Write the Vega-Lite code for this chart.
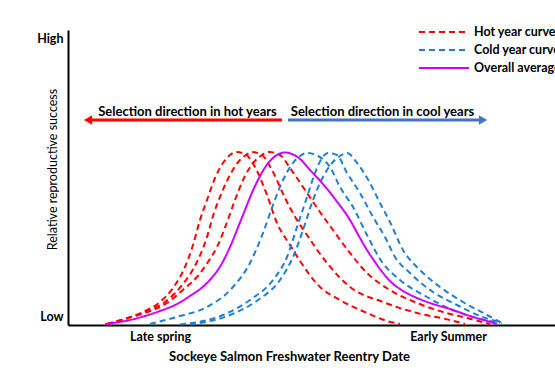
{
  "$schema": "https://vega.github.io/schema/vega-lite/v6.json",
  "width": 487,
  "height": 295,
  "autosize": "none",
  "padding": {"left": 68, "top": 30, "right": 0, "bottom": 49},
  "background": "white",
  "config": {
    "view": {"stroke": null},
    "font": "Lato",
    "axis": {"grid": false, "ticks": false, "domainColor": "#000000", "domainWidth": 2, "labelColor": "#000000", "titleColor": "#000000"}
  },
  "layer": [
    {
      "data": {
        "values": [
          {"type": "Hot year curve", "curve": "R1", "x": 7.8, "y": 0.004},
          {"type": "Hot year curve", "curve": "R1", "x": 12, "y": 0.028},
          {"type": "Hot year curve", "curve": "R1", "x": 15.4, "y": 0.056},
          {"type": "Hot year curve", "curve": "R1", "x": 18.4, "y": 0.092},
          {"type": "Hot year curve", "curve": "R1", "x": 21, "y": 0.148},
          {"type": "Hot year curve", "curve": "R1", "x": 23.4, "y": 0.232},
          {"type": "Hot year curve", "curve": "R1", "x": 25, "y": 0.32},
          {"type": "Hot year curve", "curve": "R1", "x": 26.4, "y": 0.42},
          {"type": "Hot year curve", "curve": "R1", "x": 27.8, "y": 0.5},
          {"type": "Hot year curve", "curve": "R1", "x": 29.4, "y": 0.588},
          {"type": "Hot year curve", "curve": "R1", "x": 31, "y": 0.648},
          {"type": "Hot year curve", "curve": "R1", "x": 32.4, "y": 0.68},
          {"type": "Hot year curve", "curve": "R1", "x": 33.6, "y": 0.692},
          {"type": "Hot year curve", "curve": "R1", "x": 35.4, "y": 0.684},
          {"type": "Hot year curve", "curve": "R1", "x": 37.4, "y": 0.632},
          {"type": "Hot year curve", "curve": "R1", "x": 39.8, "y": 0.52},
          {"type": "Hot year curve", "curve": "R1", "x": 41.8, "y": 0.408},
          {"type": "Hot year curve", "curve": "R1", "x": 44.4, "y": 0.32},
          {"type": "Hot year curve", "curve": "R1", "x": 46.4, "y": 0.256},
          {"type": "Hot year curve", "curve": "R1", "x": 50.4, "y": 0.152},
          {"type": "Hot year curve", "curve": "R1", "x": 54.4, "y": 0.1},
          {"type": "Hot year curve", "curve": "R1", "x": 59.8, "y": 0.048},
          {"type": "Hot year curve", "curve": "R1", "x": 63.8, "y": 0.016},
          {"type": "Hot year curve", "curve": "R1", "x": 66.4, "y": 0.004},

          {"type": "Hot year curve", "curve": "R2", "x": 7.8, "y": 0.004},
          {"type": "Hot year curve", "curve": "R2", "x": 12, "y": 0.028},
          {"type": "Hot year curve", "curve": "R2", "x": 15.4, "y": 0.052},
          {"type": "Hot year curve", "curve": "R2", "x": 19.4, "y": 0.092},
          {"type": "Hot year curve", "curve": "R2", "x": 23, "y": 0.164},
          {"type": "Hot year curve", "curve": "R2", "x": 25.6, "y": 0.244},
          {"type": "Hot year curve", "curve": "R2", "x": 27.6, "y": 0.34},
          {"type": "Hot year curve", "curve": "R2", "x": 29.2, "y": 0.448},
          {"type": "Hot year curve", "curve": "R2", "x": 30.8, "y": 0.532},
          {"type": "Hot year curve", "curve": "R2", "x": 32.4, "y": 0.6},
          {"type": "Hot year curve", "curve": "R2", "x": 34.4, "y": 0.66},
          {"type": "Hot year curve", "curve": "R2", "x": 35.6, "y": 0.68},
          {"type": "Hot year curve", "curve": "R2", "x": 36.8, "y": 0.692},
          {"type": "Hot year curve", "curve": "R2", "x": 38.8, "y": 0.68},
          {"type": "Hot year curve", "curve": "R2", "x": 40.8, "y": 0.62},
          {"type": "Hot year curve", "curve": "R2", "x": 43.4, "y": 0.508},
          {"type": "Hot year curve", "curve": "R2", "x": 45.8, "y": 0.42},
          {"type": "Hot year curve", "curve": "R2", "x": 47.8, "y": 0.36},
          {"type": "Hot year curve", "curve": "R2", "x": 51.8, "y": 0.248},
          {"type": "Hot year curve", "curve": "R2", "x": 56.4, "y": 0.152},
          {"type": "Hot year curve", "curve": "R2", "x": 63, "y": 0.092},
          {"type": "Hot year curve", "curve": "R2", "x": 69.8, "y": 0.048},
          {"type": "Hot year curve", "curve": "R2", "x": 76.4, "y": 0.02},
          {"type": "Hot year curve", "curve": "R2", "x": 79.4, "y": 0.004},

          {"type": "Hot year curve", "curve": "R3", "x": 7.8, "y": 0.004},
          {"type": "Hot year curve", "curve": "R3", "x": 12, "y": 0.028},
          {"type": "Hot year curve", "curve": "R3", "x": 15.4, "y": 0.048},
          {"type": "Hot year curve", "curve": "R3", "x": 19.8, "y": 0.088},
          {"type": "Hot year curve", "curve": "R3", "x": 23.4, "y": 0.148},
          {"type": "Hot year curve", "curve": "R3", "x": 25.8, "y": 0.192},
          {"type": "Hot year curve", "curve": "R3", "x": 28, "y": 0.252},
          {"type": "Hot year curve", "curve": "R3", "x": 29.8, "y": 0.312},
          {"type": "Hot year curve", "curve": "R3", "x": 31.6, "y": 0.4},
          {"type": "Hot year curve", "curve": "R3", "x": 33.4, "y": 0.5},
          {"type": "Hot year curve", "curve": "R3", "x": 35.4, "y": 0.596},
          {"type": "Hot year curve", "curve": "R3", "x": 37.2, "y": 0.652},
          {"type": "Hot year curve", "curve": "R3", "x": 38.8, "y": 0.68},
          {"type": "Hot year curve", "curve": "R3", "x": 40.2, "y": 0.692},
          {"type": "Hot year curve", "curve": "R3", "x": 42.4, "y": 0.68},
          {"type": "Hot year curve", "curve": "R3", "x": 44.4, "y": 0.628},
          {"type": "Hot year curve", "curve": "R3", "x": 47.4, "y": 0.54},
          {"type": "Hot year curve", "curve": "R3", "x": 50.4, "y": 0.452},
          {"type": "Hot year curve", "curve": "R3", "x": 53, "y": 0.38},
          {"type": "Hot year curve", "curve": "R3", "x": 56.4, "y": 0.288},
          {"type": "Hot year curve", "curve": "R3", "x": 59.8, "y": 0.208},
          {"type": "Hot year curve", "curve": "R3", "x": 64.4, "y": 0.14},
          {"type": "Hot year curve", "curve": "R3", "x": 69.8, "y": 0.088},
          {"type": "Hot year curve", "curve": "R3", "x": 75, "y": 0.052},
          {"type": "Hot year curve", "curve": "R3", "x": 79.8, "y": 0.028},
          {"type": "Hot year curve", "curve": "R3", "x": 84.4, "y": 0.004},

          {"type": "Cold year curve", "curve": "B1", "x": 16.4, "y": 0.004},
          {"type": "Cold year curve", "curve": "B1", "x": 22.4, "y": 0.036},
          {"type": "Cold year curve", "curve": "B1", "x": 27.8, "y": 0.072},
          {"type": "Cold year curve", "curve": "B1", "x": 33, "y": 0.152},
          {"type": "Cold year curve", "curve": "B1", "x": 36.4, "y": 0.248},
          {"type": "Cold year curve", "curve": "B1", "x": 39, "y": 0.368},
          {"type": "Cold year curve", "curve": "B1", "x": 41, "y": 0.48},
          {"type": "Cold year curve", "curve": "B1", "x": 43, "y": 0.58},
          {"type": "Cold year curve", "curve": "B1", "x": 45, "y": 0.648},
          {"type": "Cold year curve", "curve": "B1", "x": 46.4, "y": 0.676},
          {"type": "Cold year curve", "curve": "B1", "x": 47.8, "y": 0.688},
          {"type": "Cold year curve", "curve": "B1", "x": 50, "y": 0.676},
          {"type": "Cold year curve", "curve": "B1", "x": 52.4, "y": 0.632},
          {"type": "Cold year curve", "curve": "B1", "x": 54.4, "y": 0.552},
          {"type": "Cold year curve", "curve": "B1", "x": 57, "y": 0.472},
          {"type": "Cold year curve", "curve": "B1", "x": 59.8, "y": 0.36},
          {"type": "Cold year curve", "curve": "B1", "x": 62.8, "y": 0.252},
          {"type": "Cold year curve", "curve": "B1", "x": 66.4, "y": 0.18},
          {"type": "Cold year curve", "curve": "B1", "x": 71.8, "y": 0.112},
          {"type": "Cold year curve", "curve": "B1", "x": 76.4, "y": 0.064},
          {"type": "Cold year curve", "curve": "B1", "x": 81, "y": 0.032},
          {"type": "Cold year curve", "curve": "B1", "x": 86.4, "y": 0.008},

          {"type": "Cold year curve", "curve": "B2", "x": 22.4, "y": 0.002},
          {"type": "Cold year curve", "curve": "B2", "x": 31, "y": 0.04},
          {"type": "Cold year curve", "curve": "B2", "x": 36.4, "y": 0.1},
          {"type": "Cold year curve", "curve": "B2", "x": 41, "y": 0.18},
          {"type": "Cold year curve", "curve": "B2", "x": 43.8, "y": 0.272},
          {"type": "Cold year curve", "curve": "B2", "x": 45.8, "y": 0.392},
          {"type": "Cold year curve", "curve": "B2", "x": 47.8, "y": 0.512},
          {"type": "Cold year curve", "curve": "B2", "x": 49.4, "y": 0.608},
          {"type": "Cold year curve", "curve": "B2", "x": 50.8, "y": 0.668},
          {"type": "Cold year curve", "curve": "B2", "x": 52, "y": 0.688},
          {"type": "Cold year curve", "curve": "B2", "x": 53.8, "y": 0.68},
          {"type": "Cold year curve", "curve": "B2", "x": 55.8, "y": 0.608},
          {"type": "Cold year curve", "curve": "B2", "x": 58.4, "y": 0.528},
          {"type": "Cold year curve", "curve": "B2", "x": 61, "y": 0.432},
          {"type": "Cold year curve", "curve": "B2", "x": 63.4, "y": 0.352},
          {"type": "Cold year curve", "curve": "B2", "x": 65.4, "y": 0.272},
          {"type": "Cold year curve", "curve": "B2", "x": 68.4, "y": 0.208},
          {"type": "Cold year curve", "curve": "B2", "x": 73, "y": 0.132},
          {"type": "Cold year curve", "curve": "B2", "x": 77.8, "y": 0.08},
          {"type": "Cold year curve", "curve": "B2", "x": 82.4, "y": 0.036},
          {"type": "Cold year curve", "curve": "B2", "x": 86.8, "y": 0.008},

          {"type": "Cold year curve", "curve": "B3", "x": 24.4, "y": 0.002},
          {"type": "Cold year curve", "curve": "B3", "x": 32.4, "y": 0.04},
          {"type": "Cold year curve", "curve": "B3", "x": 38, "y": 0.1},
          {"type": "Cold year curve", "curve": "B3", "x": 42.4, "y": 0.18},
          {"type": "Cold year curve", "curve": "B3", "x": 45, "y": 0.272},
          {"type": "Cold year curve", "curve": "B3", "x": 47, "y": 0.38},
          {"type": "Cold year curve", "curve": "B3", "x": 49, "y": 0.5},
          {"type": "Cold year curve", "curve": "B3", "x": 51, "y": 0.592},
          {"type": "Cold year curve", "curve": "B3", "x": 53, "y": 0.652},
          {"type": "Cold year curve", "curve": "B3", "x": 54.4, "y": 0.676},
          {"type": "Cold year curve", "curve": "B3", "x": 55.8, "y": 0.688},
          {"type": "Cold year curve", "curve": "B3", "x": 57.8, "y": 0.648},
          {"type": "Cold year curve", "curve": "B3", "x": 60.4, "y": 0.568},
          {"type": "Cold year curve", "curve": "B3", "x": 62.4, "y": 0.488},
          {"type": "Cold year curve", "curve": "B3", "x": 64.4, "y": 0.412},
          {"type": "Cold year curve", "curve": "B3", "x": 67, "y": 0.3},
          {"type": "Cold year curve", "curve": "B3", "x": 70.4, "y": 0.22},
          {"type": "Cold year curve", "curve": "B3", "x": 74.4, "y": 0.152},
          {"type": "Cold year curve", "curve": "B3", "x": 79, "y": 0.092},
          {"type": "Cold year curve", "curve": "B3", "x": 83.8, "y": 0.04},
          {"type": "Cold year curve", "curve": "B3", "x": 86.8, "y": 0.008},

          {"type": "Overall average", "curve": "M", "x": 7.4, "y": 0.004},
          {"type": "Overall average", "curve": "M", "x": 12.4, "y": 0.02},
          {"type": "Overall average", "curve": "M", "x": 15.4, "y": 0.036},
          {"type": "Overall average", "curve": "M", "x": 18.4, "y": 0.056},
          {"type": "Overall average", "curve": "M", "x": 21.4, "y": 0.08},
          {"type": "Overall average", "curve": "M", "x": 24.4, "y": 0.116},
          {"type": "Overall average", "curve": "M", "x": 27.8, "y": 0.168},
          {"type": "Overall average", "curve": "M", "x": 30.6, "y": 0.24},
          {"type": "Overall average", "curve": "M", "x": 32.8, "y": 0.33},
          {"type": "Overall average", "curve": "M", "x": 34.2, "y": 0.4},
          {"type": "Overall average", "curve": "M", "x": 35.4, "y": 0.46},
          {"type": "Overall average", "curve": "M", "x": 36.6, "y": 0.52},
          {"type": "Overall average", "curve": "M", "x": 38, "y": 0.58},
          {"type": "Overall average", "curve": "M", "x": 39.6, "y": 0.636},
          {"type": "Overall average", "curve": "M", "x": 41, "y": 0.668},
          {"type": "Overall average", "curve": "M", "x": 42.4, "y": 0.686},
          {"type": "Overall average", "curve": "M", "x": 43.4, "y": 0.69},
          {"type": "Overall average", "curve": "M", "x": 44.8, "y": 0.684},
          {"type": "Overall average", "curve": "M", "x": 46.4, "y": 0.664},
          {"type": "Overall average", "curve": "M", "x": 48.4, "y": 0.62},
          {"type": "Overall average", "curve": "M", "x": 51, "y": 0.564},
          {"type": "Overall average", "curve": "M", "x": 53.4, "y": 0.504},
          {"type": "Overall average", "curve": "M", "x": 56.4, "y": 0.42},
          {"type": "Overall average", "curve": "M", "x": 58.4, "y": 0.348},
          {"type": "Overall average", "curve": "M", "x": 59.8, "y": 0.3},
          {"type": "Overall average", "curve": "M", "x": 61.4, "y": 0.252},
          {"type": "Overall average", "curve": "M", "x": 63, "y": 0.208},
          {"type": "Overall average", "curve": "M", "x": 64.8, "y": 0.168},
          {"type": "Overall average", "curve": "M", "x": 66.4, "y": 0.144},
          {"type": "Overall average", "curve": "M", "x": 69.8, "y": 0.108},
          {"type": "Overall average", "curve": "M", "x": 73, "y": 0.084},
          {"type": "Overall average", "curve": "M", "x": 76.4, "y": 0.064},
          {"type": "Overall average", "curve": "M", "x": 80.4, "y": 0.036},
          {"type": "Overall average", "curve": "M", "x": 83.8, "y": 0.016},
          {"type": "Overall average", "curve": "M", "x": 85.8, "y": 0.004}
        ]
      },
      "mark": {"type": "line", "interpolate": "monotone", "strokeWidth": 2},
      "encoding": {
        "x": {
          "field": "x", "type": "quantitative",
          "scale": {"domain": [0, 97.4], "nice": false, "zero": false},
          "axis": {
            "values": [18.4, 76],
            "labelExpr": "datum.value < 50 ? 'Late spring' : 'Early Summer'",
            "labelFont": "Lato", "labelFontWeight": "bold", "labelFontSize": 12.5,
            "labelPadding": 5, "labelFlush": false,
            "title": "Sockeye Salmon Freshwater Reentry Date",
            "titleFont": "Lato", "titleFontWeight": "bold", "titleFontSize": 13,
            "titleX": 221, "titleY": 31, "titleAlign": "center", "titleBaseline": "middle"
          }
        },
        "y": {
          "field": "y", "type": "quantitative",
          "scale": {"domain": [0, 1.18], "nice": false, "zero": false},
          "axis": {
            "values": [0.036, 1.148],
            "labelExpr": "datum.value > 0.5 ? 'High' : 'Low'",
            "labelFont": "Lato", "labelFontWeight": "bold", "labelFontSize": 12.5,
            "labelPadding": 5,
            "title": "Relative reproductive success",
            "titleFont": "Lato", "titleFontWeight": "normal", "titleFontSize": 12.5,
            "titleX": -16, "titleY": 139, "titleAngle": -90, "titleAlign": "center", "titleBaseline": "middle"
          }
        },
        "color": {
          "field": "type", "type": "nominal",
          "scale": {"domain": ["Hot year curve", "Cold year curve", "Overall average"], "range": ["#ff0000", "#1f7fd0", "#cc00ff"]},
          "legend": {
            "title": null, "orient": "none", "legendX": 365, "legendY": -9,
            "padding": 0, "offset": 0,
            "symbolType": "M-2.5,0H2.5", "symbolSize": 400, "symbolStrokeWidth": 2, "symbolFillColor": "transparent",
            "labelFont": "Lato", "labelFontWeight": "bold", "labelFontSize": 12.5, "labelColor": "#000000",
            "labelOffset": 19, "rowPadding": 0, "labelLimit": 300
          }
        },
        "strokeDash": {
          "field": "type", "type": "nominal",
          "scale": {"domain": ["Hot year curve", "Cold year curve", "Overall average"], "range": [[6, 4], [6, 4], [1, 0]]},
          "legend": {
            "title": null, "orient": "none", "legendX": 365, "legendY": -9,
            "padding": 0, "offset": 0,
            "symbolType": "M-2.5,0H2.5", "symbolSize": 400, "symbolStrokeWidth": 2, "symbolFillColor": "transparent",
            "labelFont": "Lato", "labelFontWeight": "bold", "labelFontSize": 12.5, "labelColor": "#000000",
            "labelOffset": 19, "rowPadding": 0, "labelLimit": 300
          }
        },
        "detail": {"field": "curve", "type": "nominal"}
      }
    },
    {
      "data": {"values": [{}]},
      "mark": {"type": "rule", "color": "#ff0000", "strokeWidth": 3},
      "encoding": {"x": {"datum": 4.4}, "x2": {"datum": 42.8}, "y": {"datum": 0.82}}
    },
    {
      "data": {"values": [{}]},
      "mark": {"type": "point", "shape": "triangle-left", "filled": true, "opacity": 1, "size": 90, "color": "#ff0000"},
      "encoding": {"x": {"datum": 4.0}, "y": {"datum": 0.82}}
    },
    {
      "data": {"values": [{}]},
      "mark": {"type": "rule", "color": "#4472c4", "strokeWidth": 3},
      "encoding": {"x": {"datum": 44}, "x2": {"datum": 82.6}, "y": {"datum": 0.82}}
    },
    {
      "data": {"values": [{}]},
      "mark": {"type": "point", "shape": "triangle-right", "filled": true, "opacity": 1, "size": 90, "color": "#4472c4"},
      "encoding": {"x": {"datum": 83}, "y": {"datum": 0.82}}
    },
    {
      "data": {"values": [{}]},
      "mark": {"type": "text", "font": "Lato", "fontWeight": "bold", "fontSize": 13, "color": "#000000", "align": "center", "baseline": "middle"},
      "encoding": {"x": {"datum": 23.9}, "y": {"datum": 0.852}, "text": {"value": "Selection direction in hot years"}}
    },
    {
      "data": {"values": [{}]},
      "mark": {"type": "text", "font": "Lato", "fontWeight": "bold", "fontSize": 13, "color": "#000000", "align": "center", "baseline": "middle"},
      "encoding": {"x": {"datum": 62.9}, "y": {"datum": 0.852}, "text": {"value": "Selection direction in cool years"}}
    }
  ]
}
